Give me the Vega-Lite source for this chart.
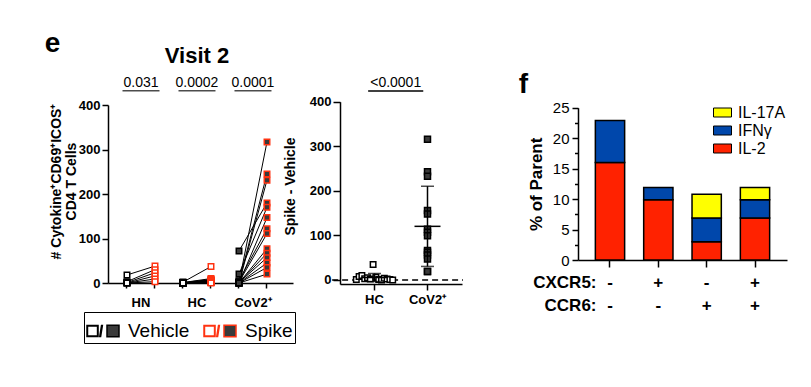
{
  "$schema": "https://vega.github.io/schema/vega-lite/v6.json",
  "width": 811,
  "height": 387,
  "autosize": {"type": "none"},
  "padding": 0,
  "background": "white",
  "config": {
    "view": {"stroke": null},
    "font": "Liberation Sans",
    "axis": {"grid": false, "domainColor": "black", "tickColor": "black", "labelColor": "black", "titleColor": "black", "domainWidth": 1.5, "tickWidth": 1.5, "labelFont": "Liberation Sans", "titleFont": "Liberation Sans"},
    "legend": {"labelColor": "black", "labelFont": "Liberation Sans"},
    "text": {"color": "black", "font": "Liberation Sans"}
  },
  "datasets": {
    "pairs": [
      {"group": "HN", "col": "HN Vehicle", "donor": "n1", "condition": "Vehicle", "value": 18}, {"group": "HN", "col": "HN Spike", "donor": "n1", "condition": "Spike", "value": 38},
      {"group": "HN", "col": "HN Vehicle", "donor": "n2", "condition": "Vehicle", "value": 3}, {"group": "HN", "col": "HN Spike", "donor": "n2", "condition": "Spike", "value": 30},
      {"group": "HN", "col": "HN Vehicle", "donor": "n3", "condition": "Vehicle", "value": 1}, {"group": "HN", "col": "HN Spike", "donor": "n3", "condition": "Spike", "value": 23},
      {"group": "HN", "col": "HN Vehicle", "donor": "n4", "condition": "Vehicle", "value": 0}, {"group": "HN", "col": "HN Spike", "donor": "n4", "condition": "Spike", "value": 16},
      {"group": "HN", "col": "HN Vehicle", "donor": "n5", "condition": "Vehicle", "value": 0}, {"group": "HN", "col": "HN Spike", "donor": "n5", "condition": "Spike", "value": 9},
      {"group": "HN", "col": "HN Vehicle", "donor": "n6", "condition": "Vehicle", "value": 0}, {"group": "HN", "col": "HN Spike", "donor": "n6", "condition": "Spike", "value": 3},
      {"group": "HC", "col": "HC Vehicle", "donor": "h01", "condition": "Vehicle", "value": 2}, {"group": "HC", "col": "HC Spike", "donor": "h01", "condition": "Spike", "value": 37},
      {"group": "HC", "col": "HC Vehicle", "donor": "h02", "condition": "Vehicle", "value": 1}, {"group": "HC", "col": "HC Spike", "donor": "h02", "condition": "Spike", "value": 10},
      {"group": "HC", "col": "HC Vehicle", "donor": "h03", "condition": "Vehicle", "value": 1}, {"group": "HC", "col": "HC Spike", "donor": "h03", "condition": "Spike", "value": 8},
      {"group": "HC", "col": "HC Vehicle", "donor": "h04", "condition": "Vehicle", "value": 0}, {"group": "HC", "col": "HC Spike", "donor": "h04", "condition": "Spike", "value": 7},
      {"group": "HC", "col": "HC Vehicle", "donor": "h05", "condition": "Vehicle", "value": 0}, {"group": "HC", "col": "HC Spike", "donor": "h05", "condition": "Spike", "value": 6},
      {"group": "HC", "col": "HC Vehicle", "donor": "h06", "condition": "Vehicle", "value": 0}, {"group": "HC", "col": "HC Spike", "donor": "h06", "condition": "Spike", "value": 5},
      {"group": "HC", "col": "HC Vehicle", "donor": "h07", "condition": "Vehicle", "value": 0}, {"group": "HC", "col": "HC Spike", "donor": "h07", "condition": "Spike", "value": 5},
      {"group": "HC", "col": "HC Vehicle", "donor": "h08", "condition": "Vehicle", "value": 0}, {"group": "HC", "col": "HC Spike", "donor": "h08", "condition": "Spike", "value": 4},
      {"group": "HC", "col": "HC Vehicle", "donor": "h09", "condition": "Vehicle", "value": 0}, {"group": "HC", "col": "HC Spike", "donor": "h09", "condition": "Spike", "value": 3},
      {"group": "HC", "col": "HC Vehicle", "donor": "h10", "condition": "Vehicle", "value": 0}, {"group": "HC", "col": "HC Spike", "donor": "h10", "condition": "Spike", "value": 3},
      {"group": "HC", "col": "HC Vehicle", "donor": "h11", "condition": "Vehicle", "value": 0}, {"group": "HC", "col": "HC Spike", "donor": "h11", "condition": "Spike", "value": 2},
      {"group": "HC", "col": "HC Vehicle", "donor": "h12", "condition": "Vehicle", "value": 0}, {"group": "HC", "col": "HC Spike", "donor": "h12", "condition": "Spike", "value": 1},
      {"group": "HC", "col": "HC Vehicle", "donor": "h13", "condition": "Vehicle", "value": 0}, {"group": "HC", "col": "HC Spike", "donor": "h13", "condition": "Spike", "value": 1},
      {"group": "HC", "col": "HC Vehicle", "donor": "h14", "condition": "Vehicle", "value": 0}, {"group": "HC", "col": "HC Spike", "donor": "h14", "condition": "Spike", "value": 0},
      {"group": "CoV2⁺", "col": "CoV2⁺ Vehicle", "donor": "v01", "condition": "Vehicle", "value": 1}, {"group": "CoV2⁺", "col": "CoV2⁺ Spike", "donor": "v01", "condition": "Spike", "value": 317},
      {"group": "CoV2⁺", "col": "CoV2⁺ Vehicle", "donor": "v02", "condition": "Vehicle", "value": 3}, {"group": "CoV2⁺", "col": "CoV2⁺ Spike", "donor": "v02", "condition": "Spike", "value": 245},
      {"group": "CoV2⁺", "col": "CoV2⁺ Vehicle", "donor": "v03", "condition": "Vehicle", "value": 0}, {"group": "CoV2⁺", "col": "CoV2⁺ Spike", "donor": "v03", "condition": "Spike", "value": 231},
      {"group": "CoV2⁺", "col": "CoV2⁺ Vehicle", "donor": "v04", "condition": "Vehicle", "value": 72}, {"group": "CoV2⁺", "col": "CoV2⁺ Spike", "donor": "v04", "condition": "Spike", "value": 180},
      {"group": "CoV2⁺", "col": "CoV2⁺ Vehicle", "donor": "v05", "condition": "Vehicle", "value": 20}, {"group": "CoV2⁺", "col": "CoV2⁺ Spike", "donor": "v05", "condition": "Spike", "value": 170},
      {"group": "CoV2⁺", "col": "CoV2⁺ Vehicle", "donor": "v06", "condition": "Vehicle", "value": 0}, {"group": "CoV2⁺", "col": "CoV2⁺ Spike", "donor": "v06", "condition": "Spike", "value": 147},
      {"group": "CoV2⁺", "col": "CoV2⁺ Vehicle", "donor": "v07", "condition": "Vehicle", "value": 5}, {"group": "CoV2⁺", "col": "CoV2⁺ Spike", "donor": "v07", "condition": "Spike", "value": 122},
      {"group": "CoV2⁺", "col": "CoV2⁺ Vehicle", "donor": "v08", "condition": "Vehicle", "value": 2}, {"group": "CoV2⁺", "col": "CoV2⁺ Spike", "donor": "v08", "condition": "Spike", "value": 111},
      {"group": "CoV2⁺", "col": "CoV2⁺ Vehicle", "donor": "v09", "condition": "Vehicle", "value": 0}, {"group": "CoV2⁺", "col": "CoV2⁺ Spike", "donor": "v09", "condition": "Spike", "value": 77},
      {"group": "CoV2⁺", "col": "CoV2⁺ Vehicle", "donor": "v10", "condition": "Vehicle", "value": 0}, {"group": "CoV2⁺", "col": "CoV2⁺ Spike", "donor": "v10", "condition": "Spike", "value": 67},
      {"group": "CoV2⁺", "col": "CoV2⁺ Vehicle", "donor": "v11", "condition": "Vehicle", "value": 1}, {"group": "CoV2⁺", "col": "CoV2⁺ Spike", "donor": "v11", "condition": "Spike", "value": 57},
      {"group": "CoV2⁺", "col": "CoV2⁺ Vehicle", "donor": "v12", "condition": "Vehicle", "value": 0}, {"group": "CoV2⁺", "col": "CoV2⁺ Spike", "donor": "v12", "condition": "Spike", "value": 45},
      {"group": "CoV2⁺", "col": "CoV2⁺ Vehicle", "donor": "v13", "condition": "Vehicle", "value": 0}, {"group": "CoV2⁺", "col": "CoV2⁺ Spike", "donor": "v13", "condition": "Spike", "value": 35},
      {"group": "CoV2⁺", "col": "CoV2⁺ Vehicle", "donor": "v14", "condition": "Vehicle", "value": 0}, {"group": "CoV2⁺", "col": "CoV2⁺ Spike", "donor": "v14", "condition": "Spike", "value": 20}
    ],
    "ptext": [
      {"group": "HN", "p": "0.031"},
      {"group": "HC", "p": "0.0002"},
      {"group": "CoV2⁺", "p": "0.0001"}
    ],
    "diff": [
      {"group": "HC", "donor": "d01", "value": 1}, {"group": "HC", "donor": "d02", "value": 8},
      {"group": "HC", "donor": "d03", "value": 10}, {"group": "HC", "donor": "d04", "value": 3},
      {"group": "HC", "donor": "d05", "value": 5}, {"group": "HC", "donor": "d06", "value": 2},
      {"group": "HC", "donor": "d07", "value": 35}, {"group": "HC", "donor": "d08", "value": 6},
      {"group": "HC", "donor": "d09", "value": 1}, {"group": "HC", "donor": "d10", "value": 0},
      {"group": "HC", "donor": "d11", "value": 4}, {"group": "HC", "donor": "d12", "value": 2},
      {"group": "HC", "donor": "d13", "value": 1}, {"group": "HC", "donor": "d14", "value": 0},
      {"group": "CoV2⁺", "donor": "e01", "value": 316}, {"group": "CoV2⁺", "donor": "e02", "value": 243},
      {"group": "CoV2⁺", "donor": "e03", "value": 233}, {"group": "CoV2⁺", "donor": "e04", "value": 156},
      {"group": "CoV2⁺", "donor": "e05", "value": 148}, {"group": "CoV2⁺", "donor": "e06", "value": 114},
      {"group": "CoV2⁺", "donor": "e07", "value": 107}, {"group": "CoV2⁺", "donor": "e08", "value": 99},
      {"group": "CoV2⁺", "donor": "e09", "value": 66}, {"group": "CoV2⁺", "donor": "e10", "value": 62},
      {"group": "CoV2⁺", "donor": "e11", "value": 56}, {"group": "CoV2⁺", "donor": "e12", "value": 47},
      {"group": "CoV2⁺", "donor": "e13", "value": 19}, {"group": "CoV2⁺", "donor": "e14", "value": 19}
    ],
    "bars": [
      {"subset": "CXCR5-CCR6-", "cytokine": "IL-2", "rank": 1, "value": 16},
      {"subset": "CXCR5-CCR6-", "cytokine": "IFNγ", "rank": 2, "value": 6.9},
      {"subset": "CXCR5+CCR6-", "cytokine": "IL-2", "rank": 1, "value": 9.9},
      {"subset": "CXCR5+CCR6-", "cytokine": "IFNγ", "rank": 2, "value": 2},
      {"subset": "CXCR5-CCR6+", "cytokine": "IL-2", "rank": 1, "value": 3},
      {"subset": "CXCR5-CCR6+", "cytokine": "IFNγ", "rank": 2, "value": 3.9},
      {"subset": "CXCR5-CCR6+", "cytokine": "IL-17A", "rank": 3, "value": 3.9},
      {"subset": "CXCR5+CCR6+", "cytokine": "IL-2", "rank": 1, "value": 6.9},
      {"subset": "CXCR5+CCR6+", "cytokine": "IFNγ", "rank": 2, "value": 3},
      {"subset": "CXCR5+CCR6+", "cytokine": "IL-17A", "rank": 3, "value": 2}
    ],
    "signs": [
      {"subset": "CXCR5-CCR6-", "cxcr5": "-", "ccr6": "-"},
      {"subset": "CXCR5+CCR6-", "cxcr5": "+", "ccr6": "-"},
      {"subset": "CXCR5-CCR6+", "cxcr5": "-", "ccr6": "+"},
      {"subset": "CXCR5+CCR6+", "cxcr5": "+", "ccr6": "+"}
    ]
  },
  "resolve": {
    "scale": {"x": "independent", "y": "independent", "xOffset": "independent", "fill": "independent", "stroke": "independent"},
    "axis": {"x": "independent", "y": "independent"},
    "legend": {"fill": "independent", "stroke": "independent"}
  },
  "layer": [
    {
      "data": {"name": "pairs"},
      "mark": {"type": "line", "color": "black", "strokeWidth": 1},
      "encoding": {
        "x": {"field": "col", "type": "nominal",
          "scale": {"type": "band", "domain": ["HN Vehicle", "HN Spike", "HC Vehicle", "HC Spike", "CoV2⁺ Vehicle", "CoV2⁺ Spike"], "range": [108, 293], "paddingInner": 0, "paddingOuter": 0.3036, "align": 0.294},
          "axis": {"orient": "bottom", "offset": -104, "title": null, "labels": false, "tickSize": 5}},
        "y": {"field": "value", "type": "quantitative",
          "scale": {"domain": [0, 400], "range": [283, 105], "nice": false, "zero": false},
          "axis": {"orient": "left", "offset": -108, "values": [0, 100, 200, 300, 400], "tickSize": 6, "labelPadding": 2, "labelFontSize": 13, "labelFontWeight": "bold",
            "title": ["# Cytokine⁺CD69⁺ICOS⁺", "CD4 T Cells"], "titleFontSize": 14, "titleFontWeight": "bold", "titlePadding": 0, "titleY": 181, "titleLineHeight": 15}},
        "detail": {"field": "donor"}
      }
    },
    {
      "data": {"name": "pairs"},
      "mark": {"type": "point", "shape": "square", "filled": true, "size": 30, "strokeWidth": 1.5, "opacity": 1},
      "encoding": {
        "x": {"field": "col", "type": "nominal", "scale": {"type": "band", "domain": ["HN Vehicle", "HN Spike", "HC Vehicle", "HC Spike", "CoV2⁺ Vehicle", "CoV2⁺ Spike"], "range": [108, 293], "paddingInner": 0, "paddingOuter": 0.3036, "align": 0.294}, "axis": null},
        "y": {"field": "value", "type": "quantitative", "scale": {"domain": [0, 400], "range": [283, 105], "nice": false, "zero": false}, "axis": null},
        "fill": {"condition": {"test": "datum.group !== 'HN' && datum.group !== 'HC'", "value": "#3a3a3a"}, "value": "white"},
        "stroke": {"field": "condition", "type": "nominal", "scale": {"domain": ["Vehicle", "Spike"], "range": ["black", "#ff3311"]}, "legend": null}
      }
    },
    {
      "data": {"name": "pairs"},
      "mark": {"type": "point", "shape": "square", "filled": true, "fill": "#3a3a3a", "size": 30, "strokeWidth": 1.5, "opacity": 0},
      "encoding": {
        "x": {"field": "col", "type": "nominal", "scale": {"type": "band", "domain": ["HN Vehicle", "HN Spike", "HC Vehicle", "HC Spike", "CoV2⁺ Vehicle", "CoV2⁺ Spike"], "range": [108, 293], "paddingInner": 0, "paddingOuter": 0.3036, "align": 0.294}, "axis": null},
        "y": {"field": "value", "type": "quantitative", "scale": {"domain": [0, 400], "range": [283, 105], "nice": false, "zero": false}, "axis": null},
        "stroke": {"field": "condition", "type": "nominal",
          "scale": {"domain": ["Vehicle", "Spike"], "range": ["black", "#ff3311"]},
          "legend": {"orient": "none", "legendX": 84, "legendY": 312, "direction": "horizontal", "columns": 2, "title": null,
            "strokeColor": "black", "padding": 2, "labelFontSize": 19, "labelOffset": 8, "columnPadding": 11,
            "symbolType": "M-1,-0.34H-0.31V0.34H-1Z M-0.97,-0.31V0.31H-0.34V-0.31Z M-0.2,0.34L-0.09,-0.34H-0.04L-0.15,0.34Z M0.25,-0.36H1V0.36H0.25Z",
            "symbolSize": 1024, "symbolStrokeWidth": 1.5, "symbolFillColor": "#3a3a3a", "symbolOpacity": 1}}
      }
    },
    {
      "data": {"name": "ptext"},
      "mark": {"type": "text", "fontSize": 14, "baseline": "alphabetic", "align": "center"},
      "encoding": {
        "x": {"field": "group", "type": "nominal",
          "scale": {"type": "band", "domain": ["HN", "HC", "CoV2⁺"], "range": [108, 293], "paddingInner": 0, "paddingOuter": 0.152, "align": 0.294},
          "axis": {"orient": "bottom", "offset": -104, "title": null, "ticks": false, "domain": false, "labelAngle": 0, "labelFontSize": 13, "labelFontWeight": "bold", "labelPadding": 13}},
        "y": {"datum": 439.8, "type": "quantitative", "scale": {"domain": [0, 400], "range": [283, 105], "nice": false, "zero": false}, "axis": null},
        "text": {"field": "p"}
      }
    },
    {
      "data": {"name": "ptext"},
      "mark": {"type": "tick", "orient": "horizontal", "size": 37, "thickness": 1.5, "color": "black"},
      "encoding": {
        "x": {"field": "group", "type": "nominal", "scale": {"type": "band", "domain": ["HN", "HC", "CoV2⁺"], "range": [108, 293], "paddingInner": 0, "paddingOuter": 0.152, "align": 0.294}, "axis": null},
        "y": {"datum": 432.1, "type": "quantitative", "scale": {"domain": [0, 400], "range": [283, 105], "nice": false, "zero": false}, "axis": null}
      }
    },
    {
      "data": {"values": [{}]},
      "mark": {"type": "text", "text": "Visit 2", "fontSize": 22, "fontWeight": "bold", "baseline": "alphabetic", "align": "center"},
      "encoding": {
        "x": {"datum": "HC", "type": "nominal", "scale": {"type": "band", "domain": ["HN", "HC", "CoV2⁺"], "range": [108, 293], "paddingInner": 0, "paddingOuter": 0.152, "align": 0.294}, "axis": null},
        "y": {"datum": 493.7, "type": "quantitative", "scale": {"domain": [0, 400], "range": [283, 105], "nice": false, "zero": false}, "axis": null}
      }
    },
    {
      "data": {"values": [{}]},
      "mark": {"type": "text", "text": "e", "fontSize": 28, "fontWeight": "bold", "baseline": "alphabetic", "align": "center"},
      "encoding": {
        "x": {"datum": "HN", "type": "nominal", "bandPosition": -1.08, "scale": {"type": "band", "domain": ["HN", "HC", "CoV2⁺"], "range": [108, 293], "paddingInner": 0, "paddingOuter": 0.152, "align": 0.294}, "axis": null},
        "y": {"datum": 520, "type": "quantitative", "scale": {"domain": [0, 400], "range": [283, 105], "nice": false, "zero": false}, "axis": null}
      }
    },
    {
      "data": {"values": [{}]},
      "mark": {"type": "rule", "strokeDash": [6, 4], "strokeWidth": 1.5, "color": "black"},
      "encoding": {
        "x": {"datum": "HC", "type": "nominal", "bandPosition": -0.3,
          "scale": {"type": "band", "domain": ["HC", "CoV2⁺"], "range": [340, 462], "paddingInner": 0, "paddingOuter": 0.151},
          "axis": {"orient": "bottom", "offset": -103, "title": null, "tickSize": 6, "labelPadding": 3, "labelAngle": 0, "labelFontSize": 13, "labelFontWeight": "bold"}},
        "x2": {"datum": "CoV2⁺", "bandPosition": 1.17},
        "y": {"datum": 0, "type": "quantitative",
          "scale": {"domain": [-9, 400], "range": [284, 101.7], "nice": false, "zero": false},
          "axis": {"orient": "left", "offset": -340, "values": [0, 100, 200, 300, 400], "tickSize": 7, "labelPadding": 2, "labelFontSize": 13, "labelFontWeight": "bold",
            "title": "Spike - Vehicle", "titleFontSize": 14, "titleFontWeight": "bold", "titlePadding": 12, "titleY": 186}}
      }
    },
    {
      "data": {"name": "diff"},
      "transform": [{"filter": "datum.group === 'HC'"}],
      "mark": {"type": "point", "shape": "square", "filled": true, "size": 30, "strokeWidth": 1.5, "fill": "white", "stroke": "black", "opacity": 1},
      "encoding": {
        "x": {"field": "group", "type": "nominal", "scale": {"type": "band", "domain": ["HC", "CoV2⁺"], "range": [340, 462], "paddingInner": 0, "paddingOuter": 0.151}, "axis": null},
        "xOffset": {"field": "donor", "type": "nominal", "scale": {"range": [8.3, 44.7], "paddingInner": 0, "paddingOuter": 0}},
        "y": {"field": "value", "type": "quantitative", "scale": {"domain": [-9, 400], "range": [284, 101.7], "nice": false, "zero": false}, "axis": null}
      }
    },
    {
      "data": {"name": "diff"},
      "transform": [{"filter": "datum.group !== 'HC'"}],
      "mark": {"type": "point", "shape": "square", "filled": true, "size": 36, "strokeWidth": 1.5, "fill": "#3a3a3a", "stroke": "black", "opacity": 1},
      "encoding": {
        "x": {"field": "group", "type": "nominal", "scale": {"type": "band", "domain": ["HC", "CoV2⁺"], "range": [340, 462], "paddingInner": 0, "paddingOuter": 0.151}, "axis": null},
        "y": {"field": "value", "type": "quantitative", "scale": {"domain": [-9, 400], "range": [284, 101.7], "nice": false, "zero": false}, "axis": null}
      }
    },
    {
      "data": {"name": "diff"},
      "mark": {"type": "errorbar", "extent": "stdev", "ticks": true, "size": 13, "thickness": 1.5, "color": "black"},
      "encoding": {
        "x": {"field": "group", "type": "nominal", "scale": {"type": "band", "domain": ["HC", "CoV2⁺"], "range": [340, 462], "paddingInner": 0, "paddingOuter": 0.151}, "axis": null},
        "y": {"field": "value", "type": "quantitative", "scale": {"domain": [-9, 400], "range": [284, 101.7], "nice": false, "zero": false}, "axis": null}
      }
    },
    {
      "data": {"name": "diff"},
      "mark": {"type": "tick", "orient": "horizontal", "size": 26, "thickness": 1.5, "color": "black"},
      "encoding": {
        "x": {"field": "group", "type": "nominal", "scale": {"type": "band", "domain": ["HC", "CoV2⁺"], "range": [340, 462], "paddingInner": 0, "paddingOuter": 0.151}, "axis": null},
        "y": {"field": "value", "aggregate": "mean", "type": "quantitative", "scale": {"domain": [-9, 400], "range": [284, 101.7], "nice": false, "zero": false}, "axis": null}
      }
    },
    {
      "data": {"values": [{}]},
      "mark": {"type": "text", "text": "<0.0001", "fontSize": 14, "baseline": "alphabetic", "align": "center"},
      "encoding": {
        "x": {"datum": "HC", "type": "nominal", "bandPosition": 0.9, "scale": {"type": "band", "domain": ["HC", "CoV2⁺"], "range": [340, 462], "paddingInner": 0, "paddingOuter": 0.151}, "axis": null},
        "y": {"datum": 432.3, "type": "quantitative", "scale": {"domain": [-9, 400], "range": [284, 101.7], "nice": false, "zero": false}, "axis": null}
      }
    },
    {
      "data": {"values": [{}]},
      "mark": {"type": "rule", "strokeWidth": 1.5, "color": "black"},
      "encoding": {
        "x": {"datum": "HC", "type": "nominal", "bandPosition": 0.38, "scale": {"type": "band", "domain": ["HC", "CoV2⁺"], "range": [340, 462], "paddingInner": 0, "paddingOuter": 0.151}, "axis": null},
        "x2": {"datum": "HC", "bandPosition": 1.42},
        "y": {"datum": 424, "type": "quantitative", "scale": {"domain": [-9, 400], "range": [284, 101.7], "nice": false, "zero": false}, "axis": null}
      }
    },
    {
      "data": {"name": "bars"},
      "mark": {"type": "bar", "stroke": "black", "strokeWidth": 1.5},
      "encoding": {
        "x": {"field": "subset", "type": "nominal",
          "scale": {"type": "band", "domain": ["CXCR5-CCR6-", "CXCR5+CCR6-", "CXCR5-CCR6+", "CXCR5+CCR6+"], "range": [578, 787], "paddingInner": 0.394, "paddingOuter": 0.359},
          "axis": {"orient": "bottom", "offset": -127, "title": null, "labels": false, "tickSize": 7}},
        "y": {"field": "value", "type": "quantitative", "stack": "zero",
          "scale": {"domain": [0, 25], "range": [260, 107.7], "nice": false, "zero": false},
          "axis": {"orient": "left", "offset": -578, "values": [0, 5, 10, 15, 20, 25], "tickSize": 6, "labelPadding": 3, "labelFontSize": 15, "labelFontWeight": "normal",
            "title": "% of Parent", "titleFontSize": 17, "titleFontWeight": "bold", "titlePadding": 7}},
        "fill": {"field": "cytokine", "type": "nominal",
          "scale": {"domain": ["IL-17A", "IFNγ", "IL-2"], "range": ["#ffff00", "#0047ab", "#ff2200"]},
          "legend": {"orient": "none", "legendX": 713, "legendY": 103, "title": null, "symbolType": "M-1,-0.5H1V0.5H-1Z", "symbolSize": 324,
            "symbolStrokeColor": "black", "symbolStrokeWidth": 1, "labelFontSize": 16, "labelOffset": 6, "rowPadding": 0, "padding": 0}},
        "order": {"field": "rank", "type": "quantitative"}
      }
    },
    {
      "data": {"values": [{}]},
      "mark": {"type": "point", "opacity": 0},
      "encoding": {
        "y": {"datum": 0, "type": "quantitative",
          "scale": {"domain": [0, 25], "range": [260, 107.7], "nice": false, "zero": false},
          "axis": {"orient": "left", "offset": -578, "values": [2.5, 7.5, 12.5, 17.5, 22.5], "labels": false, "domain": false, "tickSize": 3.5, "title": null}}
      }
    },
    {
      "data": {"name": "signs"},
      "mark": {"type": "text", "fontSize": 17, "fontWeight": "bold", "baseline": "alphabetic", "align": "center"},
      "encoding": {
        "x": {"field": "subset", "type": "nominal", "scale": {"type": "band", "domain": ["CXCR5-CCR6-", "CXCR5+CCR6-", "CXCR5-CCR6+", "CXCR5+CCR6+"], "range": [578, 787], "paddingInner": 0.394, "paddingOuter": 0.359}, "axis": null},
        "y": {"datum": -4.64, "type": "quantitative", "scale": {"domain": [0, 25], "range": [260, 107.7], "nice": false, "zero": false}, "axis": null},
        "text": {"field": "cxcr5"}
      }
    },
    {
      "data": {"name": "signs"},
      "mark": {"type": "text", "fontSize": 17, "fontWeight": "bold", "baseline": "alphabetic", "align": "center"},
      "encoding": {
        "x": {"field": "subset", "type": "nominal", "scale": {"type": "band", "domain": ["CXCR5-CCR6-", "CXCR5+CCR6-", "CXCR5-CCR6+", "CXCR5+CCR6+"], "range": [578, 787], "paddingInner": 0.394, "paddingOuter": 0.359}, "axis": null},
        "y": {"datum": -8.32, "type": "quantitative", "scale": {"domain": [0, 25], "range": [260, 107.7], "nice": false, "zero": false}, "axis": null},
        "text": {"field": "ccr6"}
      }
    },
    {
      "data": {"values": [{}]},
      "mark": {"type": "text", "text": "CXCR5:", "fontSize": 17, "fontWeight": "bold", "baseline": "alphabetic", "align": "right"},
      "encoding": {
        "x": {"datum": "CXCR5-CCR6-", "type": "nominal", "bandPosition": 0.04, "scale": {"type": "band", "domain": ["CXCR5-CCR6-", "CXCR5+CCR6-", "CXCR5-CCR6+", "CXCR5+CCR6+"], "range": [578, 787], "paddingInner": 0.394, "paddingOuter": 0.359}, "axis": null},
        "y": {"datum": -4.64, "type": "quantitative", "scale": {"domain": [0, 25], "range": [260, 107.7], "nice": false, "zero": false}, "axis": null}
      }
    },
    {
      "data": {"values": [{}]},
      "mark": {"type": "text", "text": "CCR6:", "fontSize": 17, "fontWeight": "bold", "baseline": "alphabetic", "align": "right"},
      "encoding": {
        "x": {"datum": "CXCR5-CCR6-", "type": "nominal", "bandPosition": 0.04, "scale": {"type": "band", "domain": ["CXCR5-CCR6-", "CXCR5+CCR6-", "CXCR5-CCR6+", "CXCR5+CCR6+"], "range": [578, 787], "paddingInner": 0.394, "paddingOuter": 0.359}, "axis": null},
        "y": {"datum": -8.32, "type": "quantitative", "scale": {"domain": [0, 25], "range": [260, 107.7], "nice": false, "zero": false}, "axis": null}
      }
    },
    {
      "data": {"values": [{}]},
      "mark": {"type": "text", "text": "f", "fontSize": 28, "fontWeight": "bold", "baseline": "alphabetic", "align": "center"},
      "encoding": {
        "x": {"datum": "CXCR5-CCR6-", "type": "nominal", "bandPosition": -2.46, "scale": {"type": "band", "domain": ["CXCR5-CCR6-", "CXCR5+CCR6-", "CXCR5-CCR6+", "CXCR5+CCR6+"], "range": [578, 787], "paddingInner": 0.394, "paddingOuter": 0.359}, "axis": null},
        "y": {"datum": 27.36, "type": "quantitative", "scale": {"domain": [0, 25], "range": [260, 107.7], "nice": false, "zero": false}, "axis": null}
      }
    }
  ]
}
